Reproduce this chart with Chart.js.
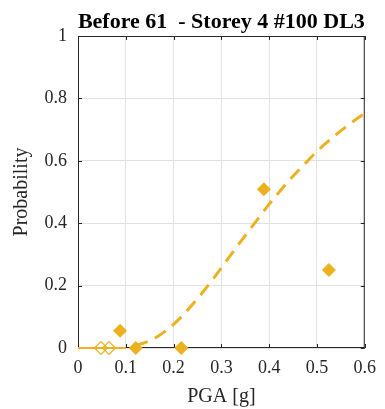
<!DOCTYPE html>
<html>
<head>
<meta charset="utf-8">
<script src="https://cdn.jsdelivr.net/npm/chart.js@4"></script>
<style>
  body { margin: 0; background: #fff; }
  canvas { display: block; }
</style>
</head>
<body>
<canvas id="myChart" width="385" height="409"></canvas>
<script>
// data
const titleText = 'Before 61  - Storey 4 #100 DL3';
const xTickLabels = ['0', '0.1', '0.2', '0.3', '0.4', '0.5', '0.6'];
const yTickLabels = ['0', '0.2', '0.4', '0.6', '0.8', '1'];

// observed points (filled diamonds)
const obsX = [0.088, 0.121, 0.216, 0.389, 0.525];
const obsY = [0.055, 0.0, 0.0, 0.509, 0.25];

// zero points (hollow diamonds)
const zeroX = [0.048, 0.065];
const zeroY = [0, 0];

// solid segment at zero
const flatX = [0, 0.1];
const flatY = [0, 0];

// fitted fragility curve (dashed)
const curveX = [0.12, 0.14, 0.16, 0.18, 0.20, 0.22, 0.24, 0.26, 0.28, 0.30, 0.32, 0.34, 0.36,
                0.38, 0.40, 0.42, 0.44, 0.46, 0.48, 0.50, 0.52, 0.54, 0.56, 0.58, 0.60];
const curveY = [0.008, 0.017, 0.031, 0.051, 0.076, 0.106, 0.140, 0.177, 0.216, 0.257, 0.299, 0.340, 0.381,
                0.421, 0.461, 0.498, 0.534, 0.567, 0.599, 0.630, 0.658, 0.684, 0.708, 0.731, 0.752];

const gold = '#EDB120';
const ink = '#262626';
const serif = "'Liberation Serif', 'Times New Roman', serif";

const pts = (xs, ys) => xs.map((x, i) => ({ x: x, y: ys[i] }));

// axes box, inward ticks and title
const boxPlugin = {
    id: 'box',
    beforeDatasetsDraw(chart) {
        const { ctx, chartArea: a, scales: { x, y } } = chart;
        ctx.save();
        ctx.strokeStyle = ink;
        ctx.lineWidth = 1;
        ctx.strokeRect(a.left + 0.5, a.top + 0.5, a.right - a.left - 1, a.bottom - a.top - 1);
        ctx.beginPath();
        const t = 4;
        x.ticks.forEach(tk => {
            const px = Math.round(x.getPixelForValue(tk.value)) + 0.5;
            ctx.moveTo(px, a.bottom); ctx.lineTo(px, a.bottom - t);
            ctx.moveTo(px, a.top); ctx.lineTo(px, a.top + t);
        });
        y.ticks.forEach(tk => {
            const py = Math.round(y.getPixelForValue(tk.value)) + 0.5;
            ctx.moveTo(a.left, py); ctx.lineTo(a.left + t, py);
            ctx.moveTo(a.right, py); ctx.lineTo(a.right - t, py);
        });
        ctx.stroke();
        ctx.restore();
    },
    afterDraw(chart) {
        const { ctx, chartArea: a } = chart;
        ctx.save();
        ctx.fillStyle = '#000';
        ctx.font = 'bold 22px ' + serif;
        ctx.textAlign = 'center';
        ctx.textBaseline = 'alphabetic';
        ctx.fillText(titleText, (a.left + a.right) / 2, 28);
        ctx.restore();
    }
};

new Chart(document.getElementById('myChart'), {
    type: 'scatter',
    data: {
        datasets: [
            {
                data: pts(flatX, flatY),
                showLine: true,
                borderColor: gold,
                borderWidth: 2.2,
                pointRadius: 0,
                clip: false
            },
            {
                data: pts(curveX, curveY),
                showLine: true,
                borderColor: gold,
                borderWidth: 3,
                borderDash: [13, 8],
                pointRadius: 0,
                cubicInterpolationMode: 'monotone',
                clip: false
            },
            {
                data: pts(zeroX, zeroY),
                pointStyle: 'rectRot',
                pointRadius: 6.5,
                backgroundColor: 'rgba(255,255,255,0)',
                borderColor: gold,
                borderWidth: 1.2,
                clip: false
            },
            {
                data: pts(obsX, obsY),
                pointStyle: 'rectRot',
                pointRadius: 6.5,
                backgroundColor: gold,
                borderColor: gold,
                borderWidth: 1,
                clip: false
            }
        ]
    },
    options: {
        responsive: false,
        animation: false,
        layout: { padding: { top: 36, right: 13, left: 0, bottom: 0 } },
        plugins: {
            legend: { display: false },
            tooltip: { enabled: false }
        },
        scales: {
            x: {
                type: 'linear',
                min: 0,
                max: 0.6,
                afterFit: s => { s.height = 61; },
                ticks: {
                    stepSize: 0.1,
                    color: ink,
                    padding: 9,
                    font: { family: serif, size: 18 },
                    maxRotation: 0,
                    callback: (v, i) => xTickLabels[i]
                },
                grid: { color: '#e2e2e2', drawTicks: false },
                border: { display: false },
                title: {
                    display: true,
                    text: 'PGA [g]',
                    color: ink,
                    font: { family: serif, size: 20 },
                    padding: { top: 0, bottom: 0 }
                }
            },
            y: {
                type: 'linear',
                min: 0,
                max: 1,
                afterFit: s => { s.width = 78; },
                ticks: {
                    stepSize: 0.2,
                    color: ink,
                    padding: 11,
                    font: { family: serif, size: 18 },
                    callback: (v, i) => yTickLabels[i]
                },
                grid: { color: '#e2e2e2', drawTicks: false },
                border: { display: false },
                title: {
                    display: true,
                    text: 'Probability',
                    color: ink,
                    font: { family: serif, size: 20 },
                    padding: { top: 10, bottom: 0 }
                }
            }
        }
    },
    plugins: [boxPlugin]
});
</script>
</body>
</html>
